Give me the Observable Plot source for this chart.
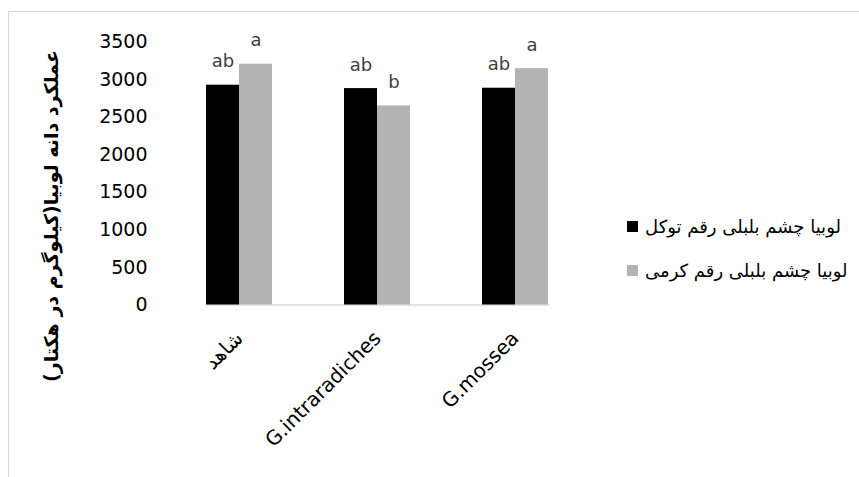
<!DOCTYPE html>
<html>
<head>
<meta charset="utf-8">
<script src="https://cdn.jsdelivr.net/npm/d3@7"></script>
<script src="https://cdn.jsdelivr.net/npm/@observablehq/plot@0.6"></script>
<style>
  html, body { margin: 0; padding: 0; background: #ffffff; }
  #wrap { position: relative; width: 859px; height: 477px; overflow: hidden; background: #ffffff; }
  #border { position: absolute; left: 8px; top: 11px; width: 900px; height: 520px;
            border-left: 1px solid #d4d4d4; border-top: 1px solid #d4d4d4; }
  #chart { position: absolute; left: 0; top: 0; }
  #ytitle { position: absolute; left: 51px; top: 216px; white-space: nowrap;
            transform: translate(-50%, -50%) rotate(-90deg);
            font-family: "DejaVu Sans", sans-serif; font-weight: bold; font-size: 19px; color: #000; }
  #legend { position: absolute; left: 627px; top: 213px; font-family: "DejaVu Sans", sans-serif;
            font-size: 18px; color: #000; }
  .item { display: flex; align-items: center; height: 26px; margin-bottom: 18.5px; }
  .swatch { width: 11px; height: 11px; margin-right: 7px; flex: none; }
</style>
</head>
<body>
<div id="wrap">
  <div id="border"></div>
  <div id="chart"></div>
  <div id="ytitle"></div>
  <div id="legend"></div>
</div>
<script>
// Treatments on the horizontal axis
const categories = ["شاهد", "G.intraradiches", "G.mossea"];
// Cowpea cultivars
const seriesNames = ["لوبیا چشم بلبلی رقم توکل", "لوبیا چشم بلبلی رقم کرمی"];
const seriesColors = ["#000000", "#b3b3b3"];
// Grain yield (kg/ha) per treatment
const tavakolYield = [2925, 2880, 2885];
const kermiYield = [3205, 2650, 3145];
// Mean-comparison letters
const tavakolLetters = ["ab", "ab", "ab"];
const kermiLetters = ["a", "b", "a"];
// Y axis ticks and title
const yTicks = [0, 500, 1000, 1500, 2000, 2500, 3000, 3500];
const yTitle = "عملکرد دانه لوبیا(کیلوگرم در هکتار)";

const rows = [];
categories.forEach((c, i) => {
  rows.push({category: c, series: seriesNames[0], value: tavakolYield[i], letter: tavakolLetters[i]});
  rows.push({category: c, series: seriesNames[1], value: kermiYield[i], letter: kermiLetters[i]});
});

const chart = Plot.plot({
  width: 859,
  height: 477,
  marginLeft: 170,
  marginRight: 275,
  marginTop: 41.5,
  marginBottom: 172.5,
  style: {fontFamily: "DejaVu Sans, sans-serif", fontSize: "19px", color: "#000", background: "transparent"},
  fx: {domain: categories, paddingInner: 0.522, paddingOuter: 0.261, label: null},
  x: {domain: seriesNames, axis: null, padding: 0},
  y: {domain: [0, 3500], label: null},
  color: {domain: seriesNames, range: seriesColors},
  marks: [
    // the y axis sits on the first facet, so the padding reaches back past the outer gap
    Plot.axisY({ticks: yTicks, tickFormat: d => String(d), tickSize: 0, tickPadding: 59, label: null, fontSize: 19}),
    Plot.axisFx({anchor: "bottom", tickRotate: -45, tickSize: 0, tickPadding: 30, label: null, fontSize: 20}),
    // category axis baseline along the bottom of the frame (y = 0)
    Plot.frame({anchor: "bottom", facet: "super", stroke: "#d9d9d9", strokeWidth: 1.3}),
    Plot.barY(rows, {fx: "category", x: "series", y: "value", fill: "series"}),
    Plot.text(rows, {fx: "category", x: "series", y: "value", text: "letter",
      lineAnchor: "bottom", dy: -18, fill: "#404040", fontSize: 18})
  ]
});
document.getElementById("chart").appendChild(chart);

d3.select("#ytitle").text(yTitle);

// Legend: swatch to the left of each cultivar name
const legend = d3.select("#legend");
seriesNames.forEach((name, i) => {
  const item = legend.append("div").attr("class", "item");
  item.append("div").attr("class", "swatch").style("background", seriesColors[i]);
  item.append("span").text(name);
});
</script>
</body>
</html>
